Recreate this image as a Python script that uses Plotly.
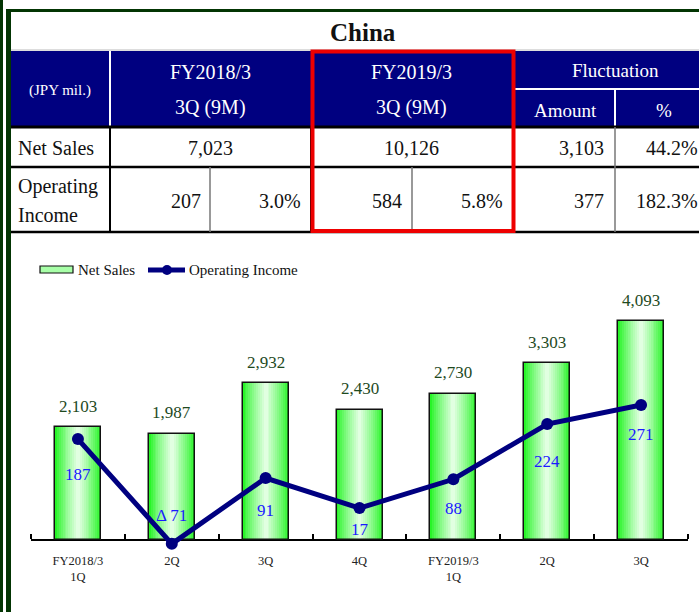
import plotly.graph_objects as go

# ---------------- data ----------------
quarters = ["FY2018/3<br>1Q", "2Q", "3Q", "4Q", "FY2019/3<br>1Q", "2Q", "3Q"]
net_sales = [2103, 1987, 2932, 2430, 2730, 3303, 4093]
operating_income = [187, -71, 91, 17, 88, 224, 271]

# summary table (JPY mil.)
period_titles = ["FY2018/3", "FY2019/3"]
period_subtitle = "3Q (9M)"
sales_9m = [7023, 10126]
op_income_9m = [207, 584]
op_margin_9m = [3.0, 5.8]
sales_fluct = (3103, 44.2)
op_fluct = (377, 182.3)

# ---------------- layout constants ----------------
W, H = 699, 612
SERIF = "Liberation Serif"
NAVY = "#000080"
FRAME_GREEN = "#033503"
LINE_NAVY = "#000080"
LABEL_GREEN = "#1e4a1e"
LABEL_BLUE = "#1a1aff"
BAR_W = 0.49
oi_label_shift = [-35, 28, -32, -21, -29, -37, -30]


def fx(x):
    return x / W


def fy(y):
    return 1 - y / H


def mix(c1, c2, t):
    return "rgb(%d,%d,%d)" % tuple(round(a + (b - a) * t) for a, b in zip(c1, c2))


xs = list(range(len(quarters)))
fig = go.Figure()

# gradient bars: stacked layers of narrowing width, bright edge to pale centre
edge, centre = (40, 245, 40), (225, 255, 225)
n_layers = 12
for i in range(n_layers):
    frac = 1 - i / n_layers
    t = (i / (n_layers - 1)) ** 0.85
    fig.add_trace(go.Bar(
        x=xs, y=net_sales, width=[BAR_W * frac] * len(xs),
        marker=dict(color=mix(edge, centre, t), line=dict(width=0)),
        showlegend=False, hoverinfo="skip",
    ))
# outline on top
fig.add_trace(go.Bar(
    x=xs, y=net_sales, width=[BAR_W] * len(xs), name="Net Sales",
    marker=dict(color="rgba(0,0,0,0)", line=dict(color="#111", width=1.5)),
    showlegend=False,
))

fig.add_trace(go.Scatter(
    x=xs, y=operating_income, yaxis="y2", mode="lines+markers",
    name="Operating Income", cliponaxis=False,
    line=dict(color=LINE_NAVY, width=5),
    marker=dict(color=LINE_NAVY, size=12),
    showlegend=False,
))

annotations = []
for x, v in zip(xs, net_sales):
    annotations.append(dict(
        x=x, y=v, xref="x", yref="y", text=f"{v:,}", showarrow=False,
        yshift=21, yanchor="middle",
        font=dict(family=SERIF, size=17, color=LABEL_GREEN)))
for x, v, s in zip(xs, operating_income, oi_label_shift):
    txt = f"Δ {abs(v)}" if v < 0 else f"{v}"
    annotations.append(dict(
        x=x, y=v, xref="x", yref="y2", text=txt, showarrow=False,
        yshift=s, yanchor="middle",
        font=dict(family=SERIF, size=17, color=LABEL_BLUE)))

shapes = []


def rect(x0, y0, x1, y1, fill, line=None, lw=0):
    shapes.append(dict(type="rect", xref="paper", yref="paper",
                       x0=fx(x0), x1=fx(x1), y0=fy(y1), y1=fy(y0),
                       fillcolor=fill, line=dict(color=line or fill, width=lw),
                       layer="above"))


def seg(x0, y0, x1, y1, color, w, dash="solid"):
    shapes.append(dict(type="line", xref="paper", yref="paper",
                       x0=fx(x0), x1=fx(x1), y0=fy(y0), y1=fy(y1),
                       line=dict(color=color, width=w, dash=dash), layer="above"))


def text(x, y, s, size=20, color="#111", anchor="center", bold=False):
    annotations.append(dict(
        x=fx(x), y=fy(y), xref="paper", yref="paper", text=f"<b>{s}</b>" if bold else s,
        showarrow=False, xanchor=anchor, yanchor="middle",
        font=dict(family=SERIF, size=size, color=color)))


# frame lines
rect(0, 0, 3, H, FRAME_GREEN)
rect(6, 9, 11, H, FRAME_GREEN)
rect(6, 9, W, 12, FRAME_GREEN)

# table header
rect(11, 51, W, 127, NAVY)
seg(11, 50, W, 50, "#bbbbbb", 1)
seg(110, 51, 110, 127, "white", 2)
seg(514, 89, W, 89, "white", 2)
seg(615, 89, 615, 127, "white", 2)

# table grid
seg(11, 127, W, 127, "#000", 3)
seg(11, 167, W, 167, "#000", 2.5)
seg(11, 232, W, 232, "#000", 2.5)
seg(110, 127, 110, 232, "#000", 2)
seg(311, 127, 311, 232, "#000", 2)
seg(514, 127, 514, 232, "#000", 2)
seg(615, 127, 615, 232, "#777", 1.5)
seg(210, 167, 210, 232, "#777", 1.5)
seg(412, 167, 412, 232, "#777", 1.5)

# highlight on current period
shapes.append(dict(type="rect", xref="paper", yref="paper",
                   x0=fx(312.5), x1=fx(513.5), y0=fy(231), y1=fy(51.5),
                   line=dict(color="#ee0000", width=4), fillcolor="rgba(0,0,0,0)",
                   layer="above"))

# table text
text(363, 32, "China", size=25, bold=True)
text(60, 90, "(JPY mil.)", size=15, color="white")
for cx, title in zip([210, 412], period_titles):
    text(cx, 72, title, size=20, color="white")
    text(cx, 107, period_subtitle, size=20, color="white")
text(615, 70, "Fluctuation", size=19, color="white")
text(565, 110, "Amount", size=19, color="white")
text(664, 110, "%", size=19, color="white")

text(16, 148, "Net Sales", size=20, anchor="left")
text(16, 186, "Operating", size=20, anchor="left")
text(16, 215, "Income", size=20, anchor="left")
for cx, v in zip([210, 412], sales_9m):
    text(cx, 148, f"{v:,}", size=20)
for rx, v in zip([203, 404], op_income_9m):
    text(rx, 201, f"{v:,}", size=20, anchor="right")
for rx, v in zip([303, 505], op_margin_9m):
    text(rx, 201, f"{v:.1f}%", size=20, anchor="right")
text(606, 148, f"{sales_fluct[0]:,}", size=20, anchor="right")
text(700, 148, f"{sales_fluct[1]:.1f}%", size=20, anchor="right")
text(606, 201, f"{op_fluct[0]:,}", size=20, anchor="right")
text(700, 201, f"{op_fluct[1]:.1f}%", size=20, anchor="right")

# legend
rect(40, 266, 73, 273, "#a8ffa8", line="#111", lw=1.2)
seg(148, 270, 185, 270, LINE_NAVY, 5)
shapes.append(dict(type="circle", xref="paper", yref="paper",
                   x0=fx(162), x1=fx(172), y0=fy(275), y1=fy(265),
                   fillcolor=LINE_NAVY, line=dict(color=LINE_NAVY, width=0), layer="above"))
text(76, 270, "Net Sales", size=15, anchor="left")
text(187, 270, "Operating Income", size=15, anchor="left")

# plot area geometry (pixels) and value scales
plot_top, plot_bottom, axis_px = 280, 565, 540
px_per_sale = 0.0535
px_per_oi = 0.406
oi_zero_px = 515

fig.update_layout(
    width=W, height=H, margin=dict(l=0, r=0, t=0, b=0),
    paper_bgcolor="white", plot_bgcolor="white",
    barmode="overlay", bargap=0,
    showlegend=False,
    xaxis=dict(
        domain=[fx(31), fx(688)], range=[-0.5, len(xs) - 0.5],
        anchor="free", position=fy(axis_px),
        tickmode="array", tickvals=xs, ticktext=quarters, ticks="",
        ticklabelstandoff=9,
        tickfont=dict(family=SERIF, size=12.5, color="#222"),
        showline=True, linecolor="#000", linewidth=2, showgrid=False,
        zeroline=False, layer="below traces",
        minor=dict(tickmode="array", tickvals=[i - 0.5 for i in range(len(xs) + 1)],
                   ticks="inside", ticklen=5, tickcolor="#000", tickwidth=1.5,
                   showgrid=False),
    ),
    yaxis=dict(
        domain=[fy(plot_bottom), fy(plot_top)],
        range=[-(plot_bottom - axis_px) / px_per_sale, (axis_px - plot_top) / px_per_sale],
        visible=False, showgrid=False, zeroline=False,
    ),
    yaxis2=dict(
        overlaying="y",
        range=[-(plot_bottom - oi_zero_px) / px_per_oi, (oi_zero_px - plot_top) / px_per_oi],
        visible=False, showgrid=False, zeroline=False,
    ),
    shapes=shapes,
    annotations=annotations,
)

fig.write_html("out.html")
